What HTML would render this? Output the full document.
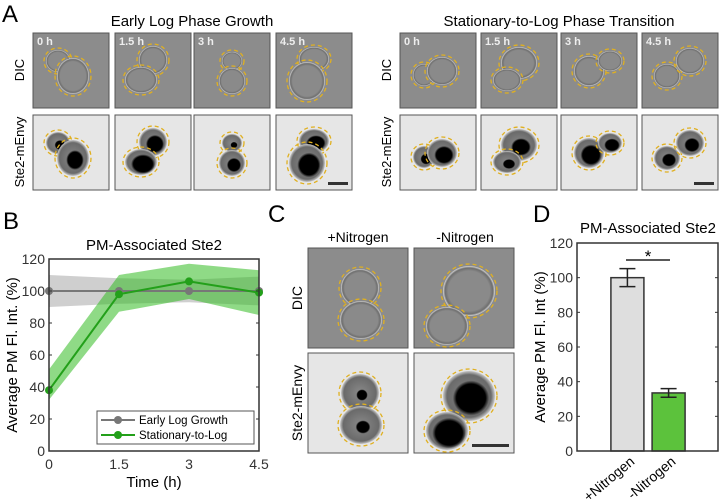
<!DOCTYPE html>
<html><head><meta charset="utf-8"><style>
body{margin:0;background:#fff;}
svg{display:block;font-family:"Liberation Sans",sans-serif;}
</style></head><body>
<svg width="720" height="499" viewBox="0 0 720 499">
<defs>
<radialGradient id="dicCell"><stop offset="0.8" stop-color="#8a8a8a"/><stop offset="0.92" stop-color="#6e6e6e"/><stop offset="1" stop-color="#d8d8d8"/></radialGradient>
<radialGradient id="flCell"><stop offset="0" stop-color="#8a8a8a"/><stop offset="0.85" stop-color="#6a6a6a"/><stop offset="1" stop-color="#c8c8c8"/></radialGradient>
<radialGradient id="blob"><stop offset="0.8" stop-color="#000"/><stop offset="1" stop-color="#000" stop-opacity="0"/></radialGradient>
</defs>
<g id="panelA"></g>
<text x="2" y="22" font-size="24">A</text>
<text x="192" y="26" font-size="15" text-anchor="middle">Early Log Phase Growth</text>
<text x="559" y="26" font-size="15" text-anchor="middle">Stationary-to-Log Phase Transition</text>

<g id="panelB"></g>
<g id="panelC"></g>
<g id="panelD"></g>
</svg>
<script>
const NS="http://www.w3.org/2000/svg";
function el(tag,attrs,parent,text){const e=document.createElementNS(NS,tag);for(const k in attrs)e.setAttribute(k,attrs[k]);if(text!==undefined)e.textContent=text;parent.appendChild(e);return e;}

// ---------- Panel A tiles ----------
const A=document.getElementById('panelA');
const timeLabels=["0 h","1.5 h","3 h","4.5 h"];
const leftX=[33,115,194,276], rightX=[400,481,561,642];
const rowY=[33,115], tileW=76, tileH=75;
function drawCells(x,y,type,cells,g,blobScale){
  cells.forEach(c=>{
    el('ellipse',{cx:x+c[0],cy:y+c[1],rx:c[2],ry:c[3],fill:type==='dic'?'url(#dicCell)':'url(#flCell)'},g);
    if(type!=='dic'){const s=(c[4]===undefined?blobScale:c[4]);el('ellipse',{cx:x+c[0]+2,cy:y+c[1]+2,rx:c[2]*s,ry:c[3]*s,fill:'url(#blob)'},g);}
    el('ellipse',{cx:x+c[0],cy:y+c[1],rx:c[2]+2,ry:c[3]+2,fill:'none',stroke:'#e0b020','stroke-width':1.3,'stroke-dasharray':'4 3'},g);
  });
}
function tile(x,y,type,label,cells,bar,g){
  const r=el('rect',{x:x,y:y,width:tileW,height:tileH,fill:type==='dic'?'#8c8c8c':'#e6e6e6',stroke:'#555','stroke-width':1},g);
  
  
  drawCells(x,y,type,cells,g,0.6);
  if(label){const t=el('text',{x:x+4,y:y+12,'font-size':11,'font-weight':'bold',fill:'#eee'},g,label);}
  if(bar){const b=el('rect',{x:x+tileW-24,y:y+tileH-8,width:20,height:3,fill:'#333'},g);}
}
const cellsL=[[[25,28,12,11,0.45],[40,43,16,18,0.55]],[[38,27,14,14,0.65],[26,47,16,13,0.75]],[[38,28,10,9,0.35],[38,48,13,13,0.55]],[[38,26,15,12,0.65],[31,48,18,19,0.65]]];
const cellsR=[[[24,42,11,11,0.5],[42,38,15,14,0.65]],[[38,30,18,16,0.55],[26,47,14,11,0.45]],[[28,38,15,15,0.7],[49,28,12,10,0.65]],[[25,43,13,12,0.55],[48,28,14,13,0.55]]];
[leftX,rightX].forEach((xs,gi)=>{
  xs.forEach((x,i)=>{
    const cells=gi===0?cellsL[i]:cellsR[i];
    tile(x,rowY[0],'dic',timeLabels[i],cells,false,A);
    tile(x,rowY[1],'fl',null,cells,i===3,A);
  });
  const lx=xs[0]-9;
  const t1=el('text',{transform:`translate(${lx},70) rotate(-90)`,'font-size':13,'text-anchor':'middle'},A,'DIC');
  const t2=el('text',{transform:`translate(${lx},152) rotate(-90)`,'font-size':13,'text-anchor':'middle'},A,'Ste2-mEnvy');
});

// ---------- Panel B line chart ----------
const times=[0,1.5,3,4.5];
const earlyMean=[100,100,100,100];
const earlyLo=[90,92,93,91];
const earlyHi=[110,108,107,109];
const statMean=[38,98,106,99];
const statLo=[32,87,95,85];
const statHi=[51,110,117,113];
const yTicksB=[0,20,40,60,80,100,120];
const xTickLabelsB=["0","1.5","3","4.5"];
const B=document.getElementById('panelB');
const bx0=49,bx1=259,by0=451,by1=259;
const xB=v=>bx0+(v/4.5)*(bx1-bx0);
const yB=v=>by0-(v/120)*(by0-by1);
function band(lo,hi,color,name){
  let d='M'+times.map((t,i)=>xB(t)+','+yB(hi[i])).join('L')+'L'+times.slice().reverse().map((t,j)=>{const i=times.length-1-j;return xB(t)+','+yB(lo[i]);}).join('L')+'Z';
  const p=el('path',{d:d,fill:color,'fill-opacity':0.55},B);
}
function line(m,color,name){
  const p=el('polyline',{points:times.map((t,i)=>xB(t)+','+yB(m[i])).join(' '),fill:'none',stroke:color,'stroke-width':2},B);
  times.forEach((t,i)=>{const c=el('circle',{cx:xB(t),cy:yB(m[i]),r:4,fill:color},B);});
}
el('rect',{x:bx0,y:by1,width:bx1-bx0,height:by0-by1,fill:'#fff'},B);
band(earlyLo,earlyHi,'#a8a8a8','early-band');
band(statLo,statHi,'#33bb22','stationary-band');
line(earlyMean,'#777','early-line');
line(statMean,'#23a01a','stationary-line');
el('rect',{x:bx0,y:by1,width:bx1-bx0,height:by0-by1,fill:'none',stroke:'#333','stroke-width':1.5},B);
yTicksB.forEach(v=>{
  el('line',{x1:bx0,x2:bx0+3,y1:yB(v),y2:yB(v),stroke:'#333'},B);
  el('line',{x1:bx1,x2:bx1-3,y1:yB(v),y2:yB(v),stroke:'#333'},B);
  const t=el('text',{x:bx0-4,y:yB(v)+5,'font-size':14,'text-anchor':'end',fill:'#333'},B,String(v));
});
times.forEach((t,i)=>{
  const tx=el('text',{x:xB(t),y:469,'font-size':14,'text-anchor':'middle',fill:'#333'},B,xTickLabelsB[i]);
});
{const t=el('text',{x:154,y:487,'font-size':15,'text-anchor':'middle'},B,'Time (h)');
const t2=el('text',{transform:'translate(17,355) rotate(-90)','font-size':15,'text-anchor':'middle'},B,'Average PM Fl. Int. (%)');
const t3=el('text',{x:154,y:250,'font-size':15,'text-anchor':'middle'},B,'PM-Associated Ste2');
const t4=el('text',{x:3,y:229,'font-size':24},B,'B');
const lg=el('g',{},B);
el('rect',{x:97,y:411,width:157,height:33,fill:'#fff',stroke:'#555'},lg);
[['Early Log Growth','#777',420],['Stationary-to-Log','#23a01a',435]].forEach(e=>{
  el('line',{x1:101,x2:135,y1:e[2],y2:e[2],stroke:e[1],'stroke-width':2},lg);
  el('circle',{cx:118,cy:e[2],r:4,fill:e[1]},lg);
  const t=el('text',{x:139,y:e[2]+4,'font-size':11.5},lg,e[0]);
});}

// ---------- Panel C ----------
const C=document.getElementById('panelC');
{const t=el('text',{x:268,y:222,'font-size':24},C,'C');
[['+Nitrogen',358],['-Nitrogen',465]].forEach(h=>{const t=el('text',{x:h[1],y:242,'font-size':14,'text-anchor':'middle'},C,h[0]);});
const cw=100,ch=100;
const cc=[[[52,40,19,19,0.3],[53,72,21,19,0.35]],[[55,43,26,25,0.7],[33,78,21,19,0.8]]];
[[308,0],[414,1]].forEach(p=>{
  [[248,'dic'],[353,'fl']].forEach(r=>{
    const rr=el('rect',{x:p[0],y:r[0],width:cw,height:ch,fill:r[1]==='dic'?'#8c8c8c':'#e6e6e6',stroke:'#555'},C);
    
    drawCells(p[0],r[0],r[1],cc[p[1]],C,0.5);
  });
});
const sb=el('rect',{x:472,y:444,width:37,height:3,fill:'#333'},C);
const a=el('text',{transform:'translate(302,298) rotate(-90)','font-size':14,'text-anchor':'middle'},C,'DIC');
const b=el('text',{transform:'translate(302,403) rotate(-90)','font-size':14,'text-anchor':'middle'},C,'Ste2-mEnvy');}

// ---------- Panel D bar chart ----------
const conds=["+Nitrogen","-Nitrogen"];
const barVals=[100,33.5];
const barErr=[5.2,2.5];
const barColors=["#dedede","#5cc23c"];
const yTicksD=[0,20,40,60,80,100,120];
const D=document.getElementById('panelD');
const dx0=577,dx1=719,dy0=451,dy1=243;
const yD=v=>dy0-(v/120)*(dy0-dy1);
const barCenters=[dx0+(dx1-dx0)*0.355,dx0+(dx1-dx0)*0.645];
const bw=33;
yTicksD.forEach(v=>{
  el('line',{x1:dx0,x2:dx0+3,y1:yD(v),y2:yD(v),stroke:'#333'},D);
  el('line',{x1:dx1-1,x2:dx1-4,y1:yD(v),y2:yD(v),stroke:'#333'},D);
  const t=el('text',{x:dx0-4,y:yD(v)+5,'font-size':14,'text-anchor':'end',fill:'#333'},D,String(v));
});
barVals.forEach((v,i)=>{
  const cx=barCenters[i];
  const r=el('rect',{x:cx-bw/2,y:yD(v),width:bw,height:dy0-yD(v),fill:barColors[i],stroke:'#333','stroke-width':1.5},D);
  
  const eb=el('path',{d:`M${cx},${yD(v+barErr[i])}V${yD(v-barErr[i])}M${cx-8},${yD(v+barErr[i])}H${cx+8}M${cx-8},${yD(v-barErr[i])}H${cx+8}`,stroke:'#222','stroke-width':1.5,fill:'none'},D);
  
  const t=el('text',{transform:`translate(${cx+8},${dy0+12}) rotate(-40)`,'font-size':14,'text-anchor':'end'},D,conds[i]);
});
el('rect',{x:dx0,y:dy1,width:dx1-dx0-1,height:dy0-dy1,fill:'none',stroke:'#333','stroke-width':1.5},D);
{const s=el('line',{x1:626,x2:670,y1:260,y2:260,stroke:'#222','stroke-width':1.5},D);
const st=el('text',{x:648,y:262,'font-size':17,'text-anchor':'middle'},D,'*');
const t=el('text',{x:648,y:233,'font-size':15,'text-anchor':'middle'},D,'PM-Associated Ste2');
const t2=el('text',{transform:'translate(545,347) rotate(-90)','font-size':15,'text-anchor':'middle'},D,'Average PM Fl. Int (%)');
const t3=el('text',{x:533,y:222,'font-size':24},D,'D');}
</script>
</body></html>
